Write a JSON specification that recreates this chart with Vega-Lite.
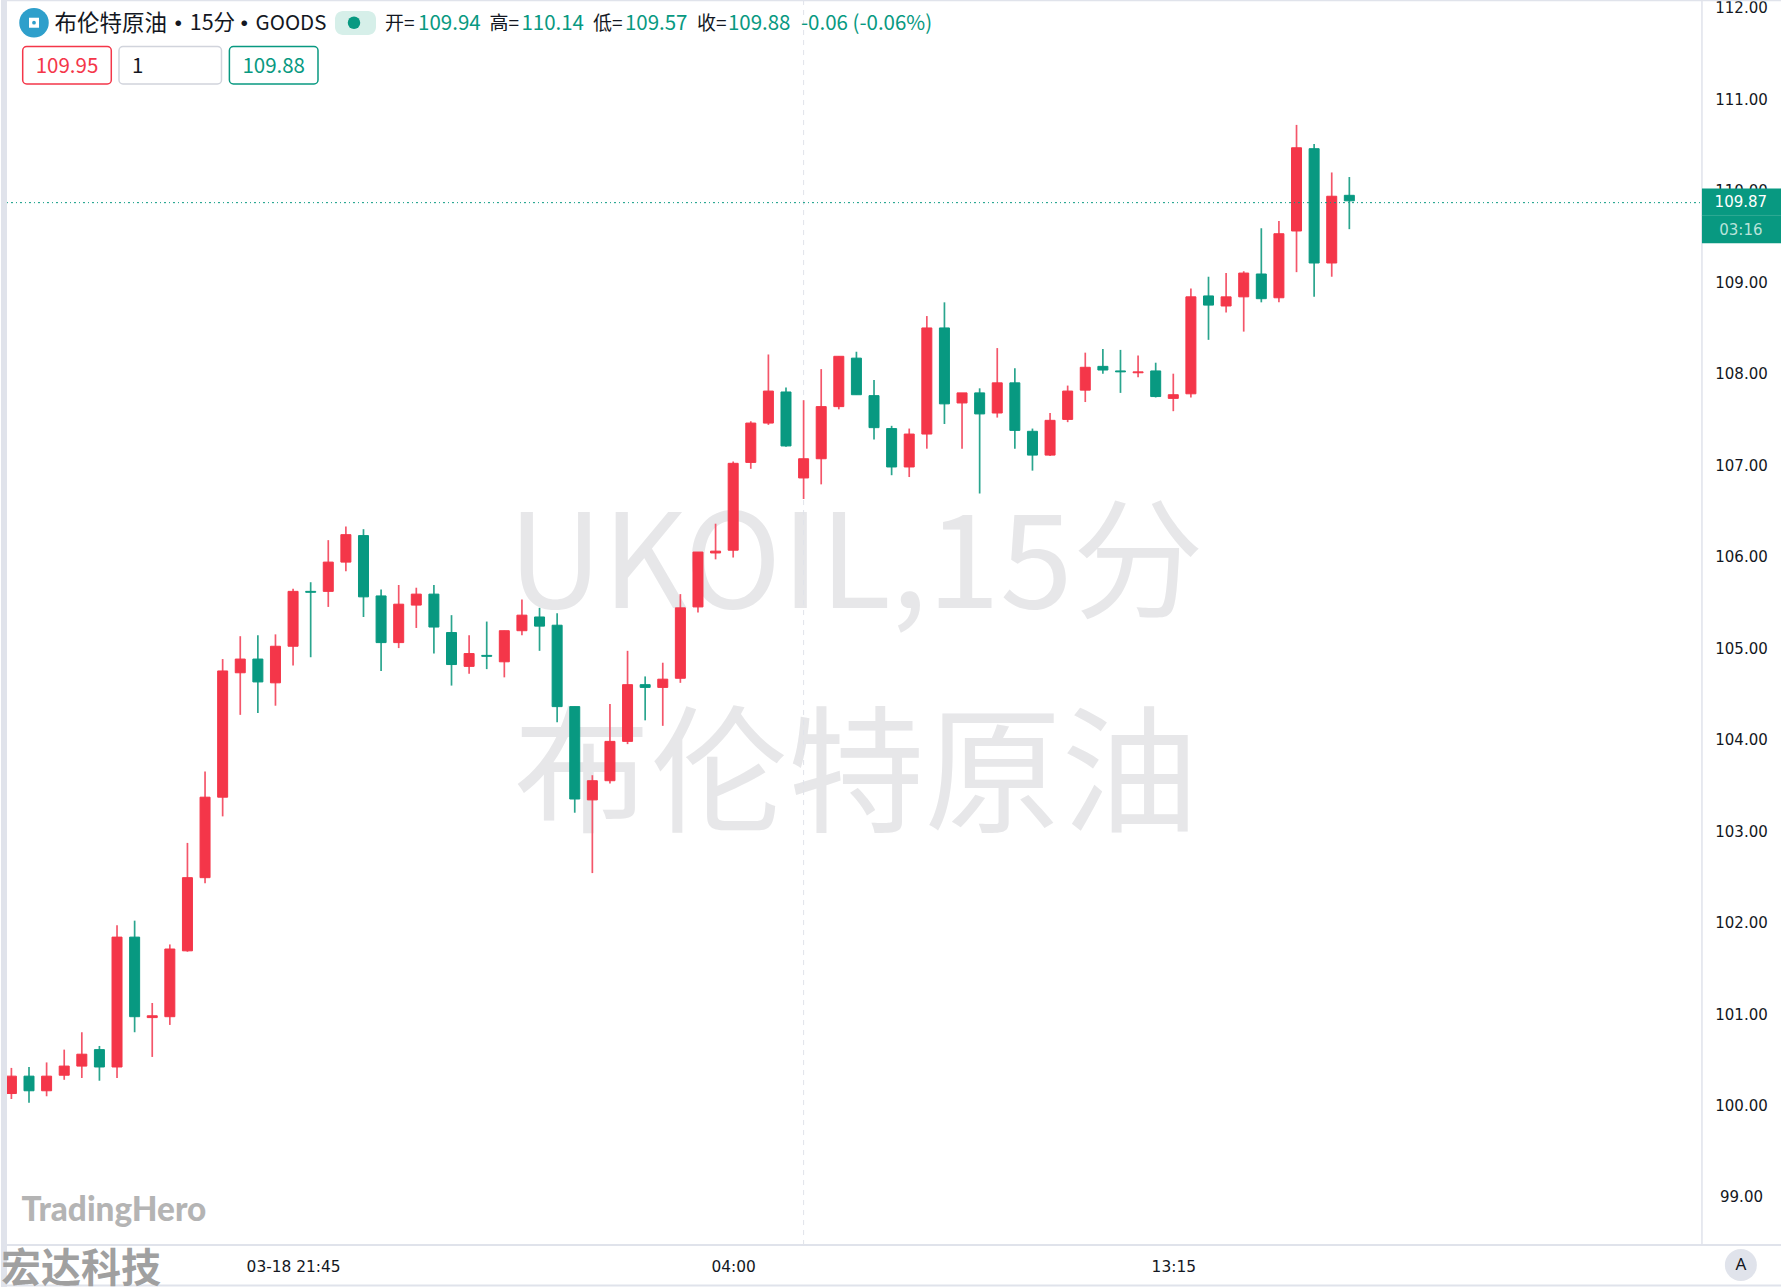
{"$schema":"https://vega.github.io/schema/vega-lite/v6.json","width":1781,"height":1287,"padding":0,"autosize":{"type":"none"},"background":"#ffffff","config":{"view":{"stroke":null},"text":{"font":"Noto Sans CJK SC"}},
"datasets":{"candles":[
{"i":0,"open":100.12,"high":100.40,"low":100.06,"close":100.31},{"i":1,"open":100.31,"high":100.41,"low":100.02,"close":100.15},{"i":2,"open":100.15,"high":100.46,"low":100.09,"close":100.31},{"i":3,"open":100.32,"high":100.60,"low":100.27,"close":100.42},{"i":4,"open":100.42,"high":100.79,"low":100.29,"close":100.55},{"i":5,"open":100.60,"high":100.64,"low":100.26,"close":100.41},{"i":6,"open":100.41,"high":101.96,"low":100.29,"close":101.83},{"i":7,"open":101.83,"high":102.01,"low":100.79,"close":100.96},{"i":8,"open":100.95,"high":101.11,"low":100.52,"close":100.97},{"i":9,"open":100.96,"high":101.75,"low":100.87,"close":101.70},
{"i":10,"open":101.68,"high":102.86,"low":101.67,"close":102.48},{"i":11,"open":102.48,"high":103.64,"low":102.42,"close":103.36},{"i":12,"open":103.36,"high":104.87,"low":103.15,"close":104.74},{"i":13,"open":104.72,"high":105.12,"low":104.26,"close":104.87},{"i":14,"open":104.87,"high":105.13,"low":104.28,"close":104.62},{"i":15,"open":104.61,"high":105.14,"low":104.36,"close":105.01},{"i":16,"open":105.01,"high":105.64,"low":104.80,"close":105.61},{"i":17,"open":105.61,"high":105.71,"low":104.89,"close":105.60},{"i":18,"open":105.61,"high":106.17,"low":105.44,"close":105.93},{"i":19,"open":105.93,"high":106.32,"low":105.83,"close":106.23},
{"i":20,"open":106.22,"high":106.29,"low":105.33,"close":105.55},{"i":21,"open":105.56,"high":105.63,"low":104.74,"close":105.05},{"i":22,"open":105.05,"high":105.68,"low":104.99,"close":105.47},{"i":23,"open":105.46,"high":105.65,"low":105.21,"close":105.58},{"i":24,"open":105.58,"high":105.68,"low":104.93,"close":105.22},{"i":25,"open":105.16,"high":105.35,"low":104.58,"close":104.81},{"i":26,"open":104.79,"high":105.13,"low":104.71,"close":104.93},{"i":27,"open":104.91,"high":105.28,"low":104.76,"close":104.90},{"i":28,"open":104.84,"high":105.18,"low":104.67,"close":105.18},{"i":29,"open":105.18,"high":105.52,"low":105.13,"close":105.35},
{"i":30,"open":105.33,"high":105.43,"low":104.96,"close":105.23},{"i":31,"open":105.24,"high":105.37,"low":104.18,"close":104.35},{"i":32,"open":104.35,"high":104.35,"low":103.19,"close":103.34},{"i":33,"open":103.33,"high":103.60,"low":102.53,"close":103.54},{"i":34,"open":103.54,"high":104.38,"low":103.51,"close":103.97},{"i":35,"open":103.97,"high":104.96,"low":103.94,"close":104.59},{"i":36,"open":104.59,"high":104.68,"low":104.20,"close":104.56},{"i":37,"open":104.56,"high":104.83,"low":104.14,"close":104.65},{"i":38,"open":104.66,"high":105.58,"low":104.61,"close":105.43},{"i":39,"open":105.44,"high":106.04,"low":105.38,"close":106.04},
{"i":40,"open":106.03,"high":106.35,"low":105.96,"close":106.05},{"i":41,"open":106.06,"high":107.03,"low":105.98,"close":107.01},{"i":42,"open":107.02,"high":107.47,"low":106.95,"close":107.45},{"i":43,"open":107.45,"high":108.20,"low":107.43,"close":107.80},{"i":44,"open":107.79,"high":107.84,"low":107.19,"close":107.20},{"i":45,"open":106.85,"high":107.70,"low":106.62,"close":107.06},{"i":46,"open":107.06,"high":108.04,"low":106.78,"close":107.63},{"i":47,"open":107.63,"high":108.18,"low":107.60,"close":108.18},{"i":48,"open":108.16,"high":108.23,"low":107.76,"close":107.76},{"i":49,"open":107.75,"high":107.92,"low":107.27,"close":107.40},
{"i":50,"open":107.39,"high":107.42,"low":106.88,"close":106.97},{"i":51,"open":106.97,"high":107.39,"low":106.86,"close":107.33},{"i":52,"open":107.33,"high":108.62,"low":107.17,"close":108.49},{"i":53,"open":108.49,"high":108.77,"low":107.44,"close":107.66},{"i":54,"open":107.67,"high":107.78,"low":107.17,"close":107.78},{"i":55,"open":107.78,"high":107.83,"low":106.68,"close":107.55},{"i":56,"open":107.56,"high":108.27,"low":107.51,"close":107.89},{"i":57,"open":107.89,"high":108.05,"low":107.17,"close":107.37},{"i":58,"open":107.36,"high":107.39,"low":106.93,"close":107.10},{"i":59,"open":107.10,"high":107.56,"low":107.09,"close":107.48},
{"i":60,"open":107.49,"high":107.86,"low":107.46,"close":107.80},{"i":61,"open":107.81,"high":108.22,"low":107.68,"close":108.06},{"i":62,"open":108.07,"high":108.26,"low":107.99,"close":108.03},{"i":63,"open":108.02,"high":108.25,"low":107.78,"close":108.01},{"i":64,"open":108.00,"high":108.19,"low":107.95,"close":108.01},{"i":65,"open":108.02,"high":108.11,"low":107.73,"close":107.74},{"i":66,"open":107.72,"high":107.99,"low":107.58,"close":107.76},{"i":67,"open":107.77,"high":108.92,"low":107.73,"close":108.83},{"i":68,"open":108.84,"high":109.05,"low":108.36,"close":108.74},{"i":69,"open":108.73,"high":109.09,"low":108.66,"close":108.83},
{"i":70,"open":108.83,"high":109.11,"low":108.45,"close":109.09},{"i":71,"open":109.08,"high":109.58,"low":108.77,"close":108.81},{"i":72,"open":108.82,"high":109.66,"low":108.77,"close":109.52},{"i":73,"open":109.55,"high":110.71,"low":109.10,"close":110.46},{"i":74,"open":110.45,"high":110.50,"low":108.83,"close":109.20},{"i":75,"open":109.20,"high":110.19,"low":109.05,"close":109.93},{"i":76,"open":109.94,"high":110.14,"low":109.57,"close":109.88}],
"one":[{"n":1}]},
"layer":[
{"data":{"name":"one"},"mark":{"type":"text","fontSize":131,"color":"#e7e7e9","baseline":"alphabetic","align":"center"},"encoding":{"x":{"datum":47.97,"type":"quantitative","scale":{"domain":[-0.6475,100.52],"nice":false,"zero":false,"padding":0},"axis":{"values":[16,41,66],"orient":"bottom","offset":-21,"title":null,"ticks":false,"domain":false,"grid":false,"labelPadding":0,"labelBaseline":"middle","labelFont":"DejaVu Sans","labelFontSize":15.4,"labelColor":"#131722","labelOverlap":false,"labelFlush":false,"labelBound":false,"labelExpr":"datum.value==16?'03-18 21:45':datum.value==41?'04:00':'13:15'"}},"y":{"datum":105.428,"type":"quantitative","scale":{"domain":[98.0047,112.0755],"nice":false,"zero":false,"padding":0},"axis":{"values":[99,100,101,102,103,104,105,106,107,108,109,110,111,112],"format":".2f","orient":"right","offset":-40,"title":null,"ticks":false,"domain":false,"grid":false,"labelPadding":0,"labelAlign":"center","labelOffset":1,"labelFont":"DejaVu Sans","labelFontSize":15,"labelColor":"#131722","labelOverlap":false,"labelFlush":false,"labelBound":false}},"text":{"value":"UKOIL,15分"}}},
{"data":{"name":"one"},"mark":{"type":"text","fontSize":137,"color":"#e7e7e9","baseline":"middle","align":"center"},"encoding":{"x":{"datum":47.97,"type":"quantitative"},"y":{"datum":103.537,"type":"quantitative"},"text":{"value":"布伦特原油"}}},
{"data":{"name":"one"},"mark":{"type":"rule","stroke":"#e0e3eb","strokeWidth":1,"strokeDash":[5,5]},"encoding":{"x":{"datum":45,"type":"quantitative"},"y":{"datum":112.0755,"type":"quantitative"},"y2":{"datum":98.464}}},
{"data":{"name":"candles"},"mark":{"type":"rule","strokeWidth":1.7},"encoding":{"x":{"field":"i","type":"quantitative"},"y":{"field":"high","type":"quantitative"},"y2":{"field":"low"},"color":{"condition":{"test":"datum.close>=datum.open","value":"#f4566a"},"value":"#2aa58e"}}},
{"data":{"name":"candles"},"mark":{"type":"bar","orient":"vertical","size":10,"strokeWidth":1},"encoding":{"x":{"field":"i","type":"quantitative"},"y":{"field":"open","type":"quantitative"},"y2":{"field":"close"},"color":{"condition":{"test":"datum.close>=datum.open","value":"#f43649"},"value":"#089981"},"stroke":{"condition":{"test":"datum.close>=datum.open","value":"#f43649"},"value":"#089981"}}},
{"data":{"name":"one"},"mark":{"type":"rule","stroke":"#089981","strokeWidth":1,"strokeDash":[1,3,2,3]},"encoding":{"x":{"datum":-0.25,"type":"quantitative"},"x2":{"datum":96.03},"y":{"datum":109.86,"type":"quantitative"}}},
{"data":{"name":"one"},"mark":{"type":"rect","fill":"#e0e3eb"},"encoding":{"x":{"datum":-0.591,"type":"quantitative"},"x2":{"datum":-0.25},"y":{"datum":112.0755,"type":"quantitative"},"y2":{"datum":98.0047}}},
{"data":{"name":"one"},"mark":{"type":"rule","stroke":"#e0e3eb","strokeWidth":1.5},"encoding":{"x":{"datum":-0.25,"type":"quantitative"},"x2":{"datum":100.52},"y":{"datum":112.07,"type":"quantitative"}}},
{"data":{"name":"one"},"mark":{"type":"rule","stroke":"#e0e3eb","strokeWidth":2},"encoding":{"x":{"datum":-0.25,"type":"quantitative"},"x2":{"datum":100.52},"y":{"datum":98.464,"type":"quantitative"}}},
{"data":{"name":"one"},"mark":{"type":"rule","stroke":"#e0e3eb","strokeWidth":2},"encoding":{"x":{"datum":-0.25,"type":"quantitative"},"x2":{"datum":100.52},"y":{"datum":98.021,"type":"quantitative"}}},
{"data":{"name":"one"},"mark":{"type":"rule","stroke":"#e0e3eb","strokeWidth":1.5},"encoding":{"x":{"datum":96.03,"type":"quantitative"},"y":{"datum":112.0755,"type":"quantitative"},"y2":{"datum":98.464}}},
{"data":{"name":"one"},"mark":{"type":"rect","fill":"#089981"},"encoding":{"x":{"datum":96.03,"type":"quantitative"},"x2":{"datum":100.52},"y":{"datum":110.015,"type":"quantitative"},"y2":{"datum":109.415}}},
{"data":{"name":"one"},"mark":{"type":"rule","stroke":"#2fa993","strokeWidth":1},"encoding":{"x":{"datum":96.03,"type":"quantitative"},"x2":{"datum":100.52},"y":{"datum":109.72,"type":"quantitative"}}},
{"data":{"name":"one"},"mark":{"type":"text","font":"DejaVu Sans","fontSize":15,"color":"#ffffff","align":"center","baseline":"middle"},"encoding":{"x":{"datum":98.24,"type":"quantitative"},"y":{"datum":109.868,"type":"quantitative"},"text":{"value":"109.87"}}},
{"data":{"name":"one"},"mark":{"type":"text","font":"DejaVu Sans","fontSize":15,"color":"#b9e3da","align":"center","baseline":"middle"},"encoding":{"x":{"datum":98.24,"type":"quantitative"},"y":{"datum":109.56,"type":"quantitative"},"text":{"value":"03:16"}}},
{"data":{"name":"one"},"mark":{"type":"point","filled":true,"shape":"circle","size":870,"fill":"#2e9fcb","opacity":1},"encoding":{"x":{"datum":1.284,"type":"quantitative"},"y":{"datum":111.827,"type":"quantitative"}}},
{"data":{"name":"one"},"mark":{"type":"point","filled":true,"shape":"square","size":100,"fill":"#ffffff","opacity":1},"encoding":{"x":{"datum":1.284,"type":"quantitative"},"y":{"datum":111.827,"type":"quantitative"}}},
{"data":{"name":"one"},"mark":{"type":"point","filled":true,"shape":"circle","size":14,"fill":"#2e9fcb","opacity":1},"encoding":{"x":{"datum":1.284,"type":"quantitative"},"y":{"datum":111.827,"type":"quantitative"}}},
{"data":{"name":"one"},"mark":{"type":"text","fontSize":22.5,"color":"#131722","align":"left","baseline":"middle"},"encoding":{"x":{"datum":2.448,"type":"quantitative"},"y":{"datum":111.814,"type":"quantitative"},"text":{"value":"布伦特原油"}}},
{"data":{"name":"one"},"mark":{"type":"text","fontSize":22,"fontWeight":700,"color":"#131722","align":"center","baseline":"middle"},"encoding":{"x":{"datum":9.48,"type":"quantitative"},"y":{"datum":111.814,"type":"quantitative"},"text":{"value":"·"}}},
{"data":{"name":"one"},"mark":{"type":"text","fontSize":21.5,"color":"#131722","align":"left","baseline":"middle"},"encoding":{"x":{"datum":10.13,"type":"quantitative"},"y":{"datum":111.814,"type":"quantitative"},"text":{"value":"15分"}}},
{"data":{"name":"one"},"mark":{"type":"text","fontSize":22,"fontWeight":700,"color":"#131722","align":"center","baseline":"middle"},"encoding":{"x":{"datum":13.22,"type":"quantitative"},"y":{"datum":111.814,"type":"quantitative"},"text":{"value":"·"}}},
{"data":{"name":"one"},"mark":{"type":"text","fontSize":20.5,"color":"#131722","align":"left","baseline":"middle"},"encoding":{"x":{"datum":13.87,"type":"quantitative"},"y":{"datum":111.814,"type":"quantitative"},"text":{"value":"GOODS"}}},
{"data":{"name":"one"},"mark":{"type":"rect","fill":"#d6efe9","cornerRadius":8},"encoding":{"x":{"datum":18.38,"type":"quantitative"},"x2":{"datum":20.71},"y":{"datum":111.955,"type":"quantitative"},"y2":{"datum":111.693}}},
{"data":{"name":"one"},"mark":{"type":"point","filled":true,"shape":"circle","size":156,"fill":"#089981","opacity":1},"encoding":{"x":{"datum":19.46,"type":"quantitative"},"y":{"datum":111.827,"type":"quantitative"}}},
{"data":{"name":"one"},"mark":{"type":"text","fontSize":19,"color":"#131722","align":"left","baseline":"middle"},"encoding":{"x":{"datum":21.22,"type":"quantitative"},"y":{"datum":111.814,"type":"quantitative"},"text":{"value":"开="}}},
{"data":{"name":"one"},"mark":{"type":"text","fontSize":20.5,"color":"#089981","align":"left","baseline":"middle"},"encoding":{"x":{"datum":23.10,"type":"quantitative"},"y":{"datum":111.814,"type":"quantitative"},"text":{"value":"109.94"}}},
{"data":{"name":"one"},"mark":{"type":"text","fontSize":19,"color":"#131722","align":"left","baseline":"middle"},"encoding":{"x":{"datum":27.16,"type":"quantitative"},"y":{"datum":111.814,"type":"quantitative"},"text":{"value":"高="}}},
{"data":{"name":"one"},"mark":{"type":"text","fontSize":20.5,"color":"#089981","align":"left","baseline":"middle"},"encoding":{"x":{"datum":28.97,"type":"quantitative"},"y":{"datum":111.814,"type":"quantitative"},"text":{"value":"110.14"}}},
{"data":{"name":"one"},"mark":{"type":"text","fontSize":19,"color":"#131722","align":"left","baseline":"middle"},"encoding":{"x":{"datum":33.04,"type":"quantitative"},"y":{"datum":111.814,"type":"quantitative"},"text":{"value":"低="}}},
{"data":{"name":"one"},"mark":{"type":"text","fontSize":20.5,"color":"#089981","align":"left","baseline":"middle"},"encoding":{"x":{"datum":34.85,"type":"quantitative"},"y":{"datum":111.814,"type":"quantitative"},"text":{"value":"109.57"}}},
{"data":{"name":"one"},"mark":{"type":"text","fontSize":19,"color":"#131722","align":"left","baseline":"middle"},"encoding":{"x":{"datum":38.94,"type":"quantitative"},"y":{"datum":111.814,"type":"quantitative"},"text":{"value":"收="}}},
{"data":{"name":"one"},"mark":{"type":"text","fontSize":20.5,"color":"#089981","align":"left","baseline":"middle"},"encoding":{"x":{"datum":40.70,"type":"quantitative"},"y":{"datum":111.814,"type":"quantitative"},"text":{"value":"109.88"}}},
{"data":{"name":"one"},"mark":{"type":"text","fontSize":20.5,"color":"#089981","align":"left","baseline":"middle"},"encoding":{"x":{"datum":44.85,"type":"quantitative"},"y":{"datum":111.814,"type":"quantitative"},"text":{"value":"-0.06 (-0.06%)"}}},
{"data":{"name":"one"},"mark":{"type":"rect","fill":"#ffffff","stroke":"#f43649","strokeWidth":1.5,"cornerRadius":4},"encoding":{"x":{"datum":0.642,"type":"quantitative"},"x2":{"datum":5.674},"y":{"datum":111.566,"type":"quantitative"},"y2":{"datum":111.157}}},
{"data":{"name":"one"},"mark":{"type":"rect","fill":"#ffffff","stroke":"#d1d4dc","strokeWidth":1.5,"cornerRadius":4},"encoding":{"x":{"datum":6.112,"type":"quantitative"},"x2":{"datum":11.934},"y":{"datum":111.566,"type":"quantitative"},"y2":{"datum":111.157}}},
{"data":{"name":"one"},"mark":{"type":"rect","fill":"#ffffff","stroke":"#089981","strokeWidth":1.5,"cornerRadius":4},"encoding":{"x":{"datum":12.383,"type":"quantitative"},"x2":{"datum":17.416},"y":{"datum":111.566,"type":"quantitative"},"y2":{"datum":111.157}}},
{"data":{"name":"one"},"mark":{"type":"text","fontSize":20.5,"color":"#f43649","align":"center","baseline":"middle"},"encoding":{"x":{"datum":3.158,"type":"quantitative"},"y":{"datum":111.342,"type":"quantitative"},"text":{"value":"109.95"}}},
{"data":{"name":"one"},"mark":{"type":"text","fontSize":20.5,"color":"#131722","align":"left","baseline":"middle"},"encoding":{"x":{"datum":6.85,"type":"quantitative"},"y":{"datum":111.342,"type":"quantitative"},"text":{"value":"1"}}},
{"data":{"name":"one"},"mark":{"type":"text","fontSize":20.5,"color":"#089981","align":"center","baseline":"middle"},"encoding":{"x":{"datum":14.90,"type":"quantitative"},"y":{"datum":111.342,"type":"quantitative"},"text":{"value":"109.88"}}},
{"data":{"name":"one"},"mark":{"type":"text","font":"Lato","fontWeight":900,"fontSize":33.3,"color":"#b4b4b4","align":"left","baseline":"middle"},"encoding":{"x":{"datum":0.579,"type":"quantitative"},"y":{"datum":98.835,"type":"quantitative"},"text":{"value":"TradingHero"}}},
{"data":{"name":"one"},"mark":{"type":"text","fontWeight":700,"fontSize":40,"color":"#a0a0a0","align":"left","baseline":"middle"},"encoding":{"x":{"datum":-0.591,"type":"quantitative"},"y":{"datum":98.19,"type":"quantitative"},"text":{"value":"宏达科技"}}},
{"data":{"name":"one"},"mark":{"type":"point","filled":true,"shape":"circle","size":1024,"fill":"#e0e3eb","opacity":1},"encoding":{"x":{"datum":98.24,"type":"quantitative"},"y":{"datum":98.245,"type":"quantitative"}}},
{"data":{"name":"one"},"mark":{"type":"text","font":"Noto Sans","fontSize":17,"color":"#131722","align":"center","baseline":"middle"},"encoding":{"x":{"datum":98.24,"type":"quantitative"},"y":{"datum":98.245,"type":"quantitative"},"text":{"value":"A"}}}
]}
